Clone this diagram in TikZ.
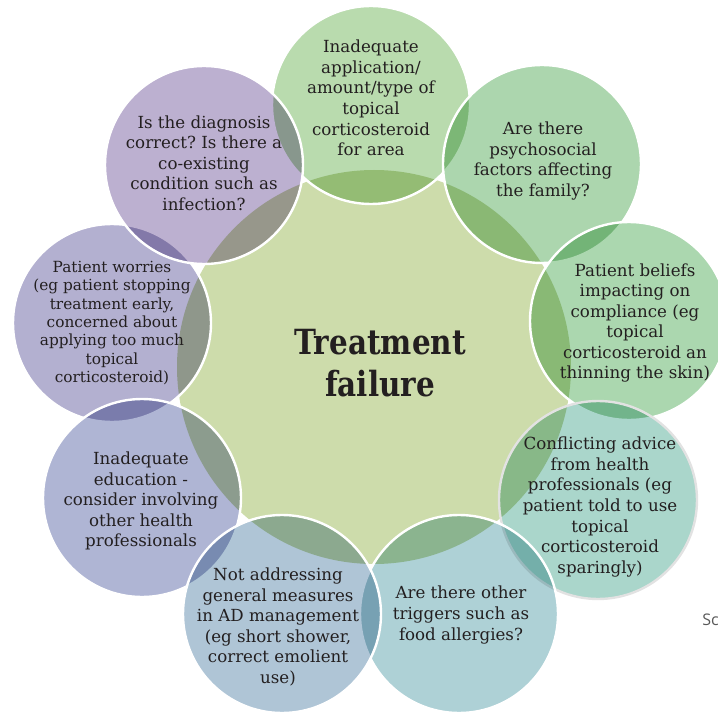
\documentclass[tikz,border=0pt]{standalone}
\usepackage{fontspec}
\setmainfont{DejaVu Serif}
\newfontfamily\titlefont[FakeStretch=0.85]{DejaVu Serif}
\newfontfamily\notefont{Open Sans}
\definecolor{core}{HTML}{CDDCAB}
\definecolor{appGreen}{HTML}{B9DBAE}
\definecolor{psyGreen}{HTML}{ACD6AE}
\definecolor{belGreen}{HTML}{ABD7AF}
\definecolor{advTeal}{HTML}{AAD6CB}
\definecolor{trigBlue}{HTML}{AED1D6}
\definecolor{meaBlue}{HTML}{AFC5D6}
\definecolor{eduBlue}{HTML}{AFB5D4}
\definecolor{worLilac}{HTML}{B3B0D0}
\definecolor{diaPurple}{HTML}{BCB0D0}
\definecolor{rimGrey}{HTML}{E2E2E2}
\definecolor{ink}{HTML}{231F20}
\frenchspacing
\tikzset{
  bubble/.style={circle, line width=1.8pt, minimum size=148.5pt, inner sep=0pt},
  note/.style={align=center, text=ink, font=\fontsize{12.5}{15.4}\selectfont},
}

\begin{document}
\begin{tikzpicture}[x=0.75pt, y=-0.75pt]
\useasboundingbox (0,0) rectangle (718,713);
\clip (0,0) rectangle (718,713);
\fill [core] (374,367) circle (197);
\foreach \name/\pos/\col/\rim in {application/{371,105}/appGreen/white,
    psychosocial/{542,164}/psyGreen/white, beliefs/{629,321}/belGreen/white,
    advice/{598,500}/advTeal/rimGrey, triggers/{459,614}/trigBlue/white,
    worries/{112,323}/worLilac/white, education/{142,498}/eduBlue/white,
    measures/{282,614}/meaBlue/white, diagnosis/{204,165}/diaPurple/white}
{
  \begin{scope}[blend mode=multiply]
    \fill [\col] (\pos) circle (99);
  \end{scope}
  \node [bubble, draw=\rim] (\name) at (\pos) {};
}
\node [note] (applicationText) at (371,98) {Inadequate\\application/\\amount/type of\\topical\\corticosteroid\\for area};
\node [note] (psychosocialText) at (543,161) {Are there\\psychosocial\\factors affecting\\the family?};
\node [note] (beliefsText) at (635,323) {Patient beliefs\\impacting on\\compliance (eg\\topical\\corticosteroid an\\thinning the skin)};
\node [note] (adviceText) at (600,507) {Conflicting advice\\from health\\professionals (eg\\patient told to use\\topical\\corticosteroid\\sparingly)};
\node [note] (triggersText) at (461,615) {Are there other\\triggers such as\\food allergies?};
\node [note] (measuresText) at (278,627) {Not addressing\\general measures\\in AD management\\(eg short shower,\\correct emolient\\use)};
\node [note] (educationText) at (141,501) {Inadequate\\education -\\consider involving\\other health\\professionals};
\node [note, font=\fontsize{11.5}{13.8}\selectfont] (worriesText) at (112,323) {Patient worries\\(eg patient stopping\\treatment early,\\concerned about\\applying too much\\topical\\corticosteroid)};
\node [note] (diagnosisText) at (204,163) {Is the diagnosis\\correct? Is there a\\co-existing\\condition such as\\infection?};
\node [align=center, text=ink, font=\titlefont\bfseries\fontsize{26}{32}\selectfont] (failure) at (380,363) {Treatment\\failure};
\node [anchor=west, text=black!65, font=\notefont\fontsize{12}{14}\selectfont, inner sep=0pt] (source) at (702,620) {Sc};
\end{tikzpicture}
\end{document}
